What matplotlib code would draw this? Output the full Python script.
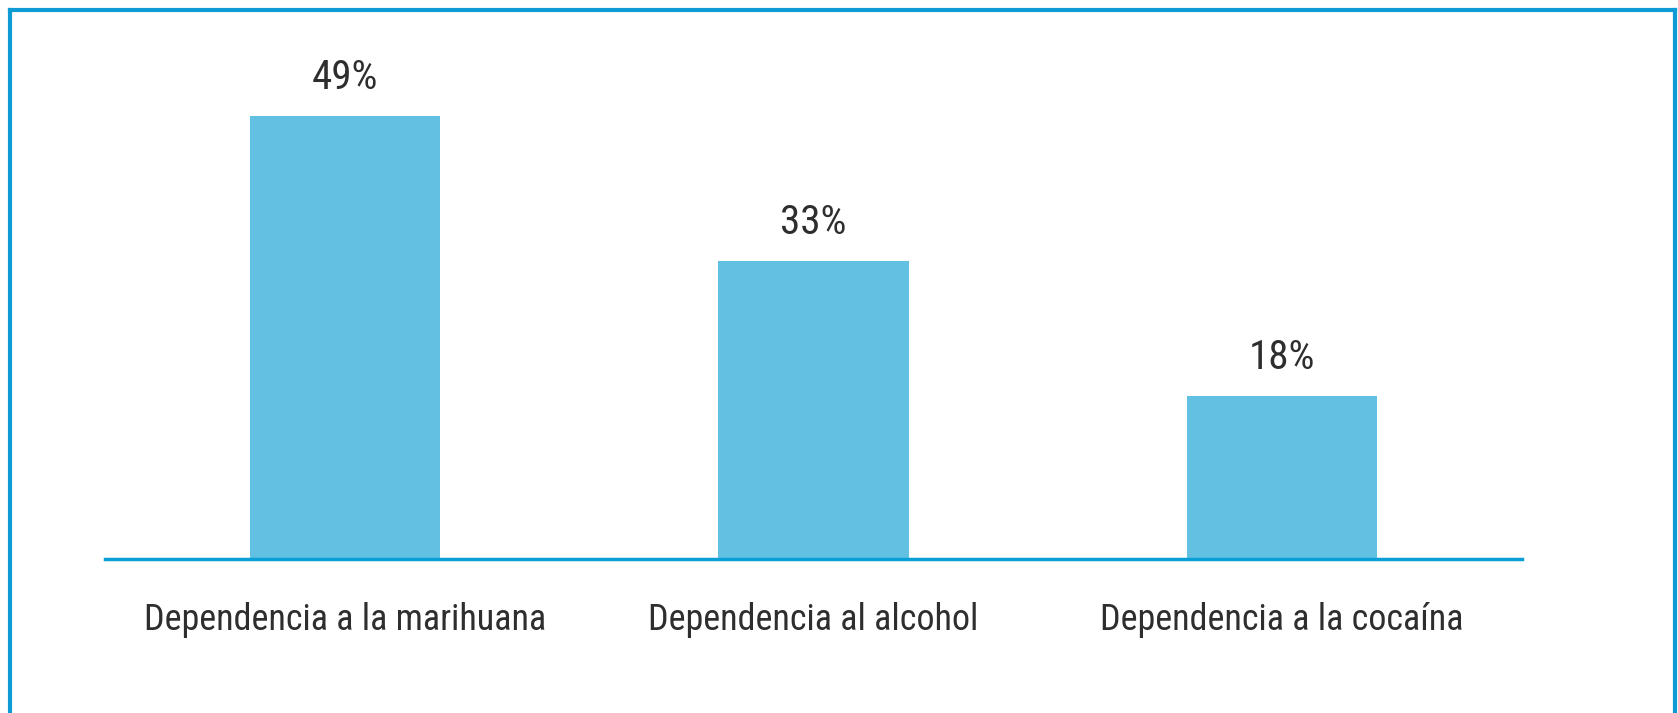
import matplotlib
matplotlib.use('Agg')
import matplotlib.pyplot as plt
from matplotlib.lines import Line2D

categories = ['Dependencia a la marihuana', 'Dependencia al alcohol', 'Dependencia a la cocaína']
values = [49, 33, 18]
labels = ['49%', '33%', '18%']

W, H = 1678, 713
fig = plt.figure(figsize=(W / 100, H / 100), dpi=100)
ax = fig.add_axes([105 / W, 154 / H, 1417 / W, 539 / H])

font = ['Roboto Condensed', 'DejaVu Sans']
bars = ax.bar(range(len(values)), values, width=0.407, color='#62C0E2', zorder=2)
for b, lab in zip(bars, labels):
    ax.text(b.get_x() + b.get_width() / 2, b.get_height() + 3.0, lab,
            ha='center', va='baseline', fontsize=29.5, color='#2e2e2e', family=font)

ax.set_xlim(-0.512, 2.512)
ax.set_ylim(0, 539 / 9.04)
ax.set_xticks(range(len(categories)))
ax.set_xticklabels(categories, fontsize=26, color='#2e2e2e', family=font, va='baseline')
ax.tick_params(axis='x', length=0, pad=51)
ax.set_yticks([])
for s in ['top', 'right', 'left']:
    ax.spines[s].set_visible(False)
ax.spines['bottom'].set_color('#0A9ED6')
ax.spines['bottom'].set_linewidth(2.5)

# blue frame around the chart (bottom edge is cut off)
c = '#0E9BD3'
fig.add_artist(Line2D([10 / W, 10 / W], [0, 1 - 10 / H], color=c, lw=3, transform=fig.transFigure))
fig.add_artist(Line2D([10 / W, 1675 / W], [1 - 10 / H, 1 - 10 / H], color=c, lw=3, transform=fig.transFigure))
fig.add_artist(Line2D([1675 / W, 1675 / W], [0, 1 - 10 / H], color=c, lw=3, transform=fig.transFigure))

fig.savefig('out.png', dpi=100)
